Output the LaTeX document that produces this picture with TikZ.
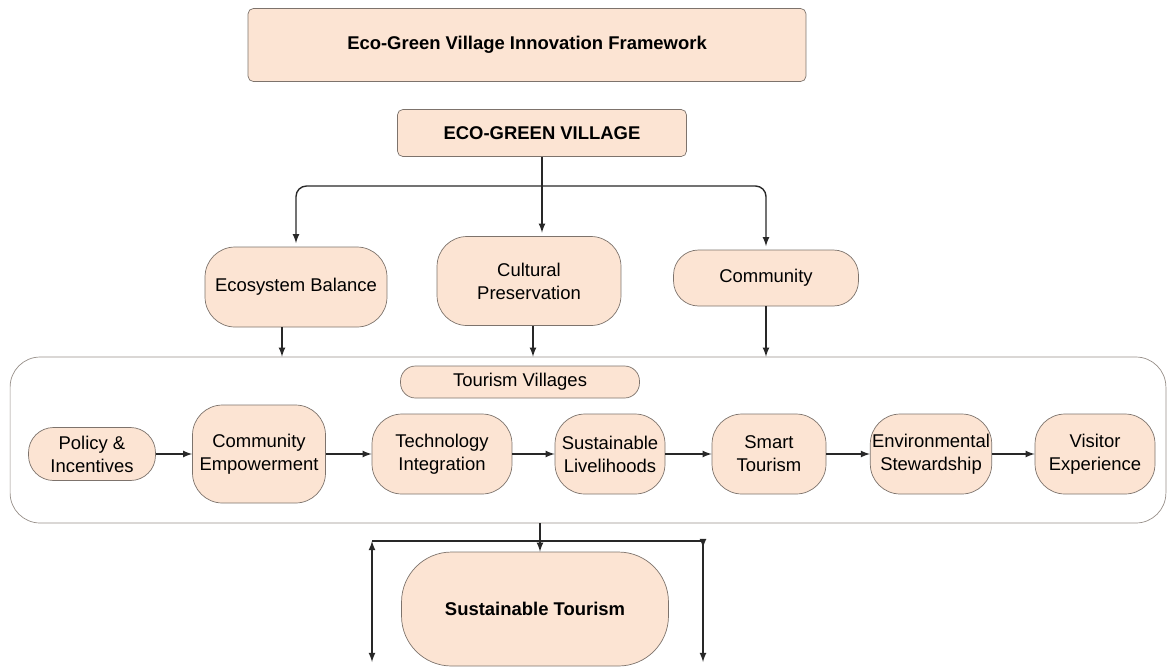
\documentclass[tikz,border=0pt]{standalone}
\usepackage{fontspec}
\setmainfont{Liberation Sans}
\usetikzlibrary{arrows,positioning,calc}
\definecolor{peach}{RGB}{252,228,211}
\definecolor{edgegray}{RGB}{125,115,108}
\definecolor{linegray}{RGB}{40,40,40}

\begin{document}
\begin{tikzpicture}[
    x=0.02cm, y=-0.02cm,
    font=\fontsize{10.5}{13}\selectfont,
    block/.style={draw=edgegray, fill=peach, rounded corners=3pt, align=center, inner sep=1pt},
    headblock/.style={block, font=\fontsize{10.5}{13}\selectfont\bfseries},
    pillblock/.style={block, rounded corners=0.6cm},
    frameblock/.style={draw=edgegray!80, rounded corners=0.6cm, fill=white},
    arrow/.style={-latex, thick, draw=linegray}
]
    \useasboundingbox (0,0) rectangle (1168,670);

    % framework title and root
    \node[headblock, minimum width=11.16cm, minimum height=1.46cm] (title) at (527,45) {Eco-Green Village Innovation Framework};
    \node[headblock, minimum width=5.78cm, minimum height=0.94cm] (village) at (542,133) {ECO-GREEN VILLAGE};

    % three pillars
    \node[pillblock, minimum width=3.64cm, minimum height=1.6cm] (ecosys) at (296,287) {Ecosystem Balance};
    \node[pillblock, minimum width=3.68cm, minimum height=1.78cm] (cultural) at (529,281) {Cultural\\Preservation};
    \node[pillblock, rounded corners=0.5cm, minimum width=3.7cm, minimum height=1.12cm] (community) at (766,278) {Community};

    % tourism villages frame
    \node[frameblock, minimum width=23.12cm, minimum height=3.32cm] (frame) at (588,440) {};
    \node[block, rounded corners=0.3cm, minimum width=4.78cm, minimum height=0.64cm] (villages) at (520,382) {Tourism Villages};

    \node[pillblock, rounded corners=0.5cm, minimum width=2.54cm, minimum height=1.06cm] (policy) at (92,454) {Policy \&\\Incentives};
    \node[pillblock, minimum width=2.66cm, minimum height=1.96cm] (empower) at (259,454) {Community\\Empowerment};
    \node[pillblock, minimum width=2.8cm, minimum height=1.6cm] (tech) at (442,454) {Technology\\Integration};
    \node[pillblock, minimum width=2.2cm, minimum height=1.6cm] (liveli) at (610,454) {Sustainable\\Livelihoods};
    \node[pillblock, minimum width=2.28cm, minimum height=1.6cm] (smart) at (769,454) {Smart\\Tourism};
    \node[pillblock, minimum width=2.36cm, minimum height=1.6cm] (steward) at (931,454) {Environmental\\Stewardship};
    \node[pillblock, minimum width=2.4cm, minimum height=1.6cm] (visitor) at (1095,454) {Visitor\\Experience};

    % outcome
    \node[headblock, rounded corners=1cm, minimum width=5.34cm, minimum height=2.28cm] (outcome) at (535,609) {Sustainable Tourism};

    % root to pillars
    \coordinate (split) at (542,186);
    \draw[thick, draw=linegray] (village.south) -- (split);
    \draw[arrow, rounded corners=6pt, shorten >=2pt] (split) -| (ecosys.north);
    \draw[arrow, shorten >=2pt] (split) -- (split |- cultural.north);
    \draw[arrow, rounded corners=6pt, shorten >=2pt] (split) -| (community.north);

    % pillars to frame
    \coordinate (ecodrop) at (282,327);
    \coordinate (culdrop) at (533,326);
    \draw[arrow] (ecodrop) -- (ecodrop |- frame.north);
    \draw[arrow] (culdrop) -- (culdrop |- frame.north);
    \draw[arrow] (community.south) -- (community.south |- frame.north);

    % chain inside the frame
    \draw[arrow] (policy) -- (empower);
    \draw[arrow] (empower) -- (tech);
    \draw[arrow] (tech) -- (liveli);
    \draw[arrow] (liveli) -- (smart);
    \draw[arrow] (smart) -- (steward);
    \draw[arrow] (steward) -- (visitor);

    % frame to outcome
    \coordinate (split2) at (540,541);
    \coordinate (leftc) at (372,541);
    \coordinate (rightc) at (703,541);
    \coordinate (leftb) at (372,662);
    \coordinate (rightb) at (703,662);
    \draw[thick, draw=linegray] (split2 |- frame.south) -- (split2);
    \draw[arrow] (split2) -- (split2 |- outcome.north);
    \draw[thick, draw=linegray] (leftc) -- (rightc);
    \draw[latex-latex, thick, draw=linegray] (leftc) -- (leftb);
    \draw[arrow] (rightc) -- ($(rightc)+(0,7)$);
    \draw[arrow] (rightc) -- (rightb);
\end{tikzpicture}
\end{document}
